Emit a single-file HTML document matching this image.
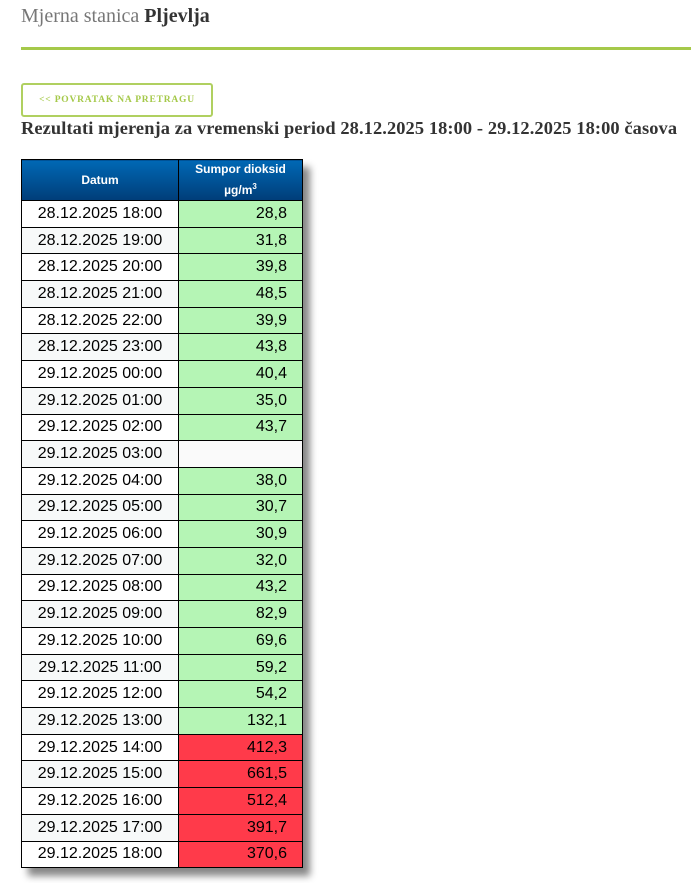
<!DOCTYPE html>
<html><head><meta charset="utf-8"><style>
body{margin:0;width:691px;height:883px;background:#fff;position:relative;overflow:hidden;font-family:"Liberation Sans",sans-serif}
.t{position:absolute;left:21px;top:5px;font-family:"Liberation Serif",serif;font-size:20px;color:#777}
.t b{color:#333}
.line{position:absolute;left:21px;top:47px;width:670px;height:3px;background:#a5c94a}
.btn{position:absolute;left:21px;top:83px;width:188px;height:30px;border:2px solid #b0d060;border-radius:3px;color:#a5c94a;font-family:"Liberation Serif",serif;font-weight:bold;font-size:9.5px;letter-spacing:.8px;text-align:center;line-height:30px}
.h{position:absolute;left:21px;top:118px;font-family:"Liberation Serif",serif;font-weight:bold;font-size:18.4px;color:#333;white-space:nowrap;letter-spacing:.1px}
table{position:absolute;left:21px;top:159px;border-collapse:collapse;box-shadow:7px 8px 7px #888}
td,th{border:1px solid #000;padding:0;height:25.7px;font-size:16px}
th{background:linear-gradient(#0068b5,#003d78);color:#fff;font-size:12px;height:40px;font-weight:bold}
td.d{width:156px;text-align:center}
td.v{width:108px;text-align:right;padding-right:15px}
tr:nth-child(odd) td.d{background:#f7f9f9}
.g{background:#b5f5b5}.r{background:#ff3a4a}.e{background:#fafafa}
</style></head><body>
<div class="t">Mjerna stanica <b>Pljevlja</b></div>
<div class="line"></div>
<div class="btn">&lt;&lt; POVRATAK NA PRETRAGU</div>
<div class="h">Rezultati mjerenja za vremenski period 28.12.2025 18:00 - 29.12.2025 18:00 časova</div>
<table>
<tr><th style="width:156px">Datum</th><th style="width:123px;line-height:17px">Sumpor dioksid<br>µg/m<sup style="font-size:8px">3</sup></th></tr>
<tr><td class="d">28.12.2025 18:00</td><td class="v g">28,8</td></tr>
<tr><td class="d">28.12.2025 19:00</td><td class="v g">31,8</td></tr>
<tr><td class="d">28.12.2025 20:00</td><td class="v g">39,8</td></tr>
<tr><td class="d">28.12.2025 21:00</td><td class="v g">48,5</td></tr>
<tr><td class="d">28.12.2025 22:00</td><td class="v g">39,9</td></tr>
<tr><td class="d">28.12.2025 23:00</td><td class="v g">43,8</td></tr>
<tr><td class="d">29.12.2025 00:00</td><td class="v g">40,4</td></tr>
<tr><td class="d">29.12.2025 01:00</td><td class="v g">35,0</td></tr>
<tr><td class="d">29.12.2025 02:00</td><td class="v g">43,7</td></tr>
<tr><td class="d">29.12.2025 03:00</td><td class="v e"></td></tr>
<tr><td class="d">29.12.2025 04:00</td><td class="v g">38,0</td></tr>
<tr><td class="d">29.12.2025 05:00</td><td class="v g">30,7</td></tr>
<tr><td class="d">29.12.2025 06:00</td><td class="v g">30,9</td></tr>
<tr><td class="d">29.12.2025 07:00</td><td class="v g">32,0</td></tr>
<tr><td class="d">29.12.2025 08:00</td><td class="v g">43,2</td></tr>
<tr><td class="d">29.12.2025 09:00</td><td class="v g">82,9</td></tr>
<tr><td class="d">29.12.2025 10:00</td><td class="v g">69,6</td></tr>
<tr><td class="d">29.12.2025 11:00</td><td class="v g">59,2</td></tr>
<tr><td class="d">29.12.2025 12:00</td><td class="v g">54,2</td></tr>
<tr><td class="d">29.12.2025 13:00</td><td class="v g">132,1</td></tr>
<tr><td class="d">29.12.2025 14:00</td><td class="v r">412,3</td></tr>
<tr><td class="d">29.12.2025 15:00</td><td class="v r">661,5</td></tr>
<tr><td class="d">29.12.2025 16:00</td><td class="v r">512,4</td></tr>
<tr><td class="d">29.12.2025 17:00</td><td class="v r">391,7</td></tr>
<tr><td class="d">29.12.2025 18:00</td><td class="v r">370,6</td></tr>
</table>
</body></html>
